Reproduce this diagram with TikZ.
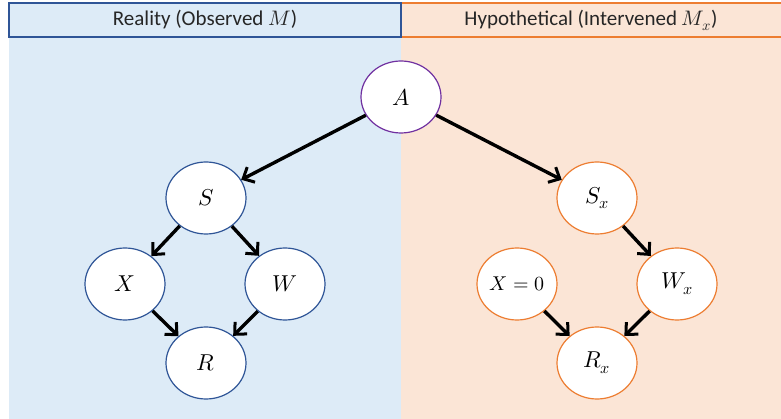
\documentclass[tikz,border=0pt]{standalone}
\usepackage{unicode-math}
\setmainfont{Carlito}
\setmathfont{Latin Modern Math}
\usetikzlibrary{shapes.geometric, arrows.meta}
\definecolor{realfill}{RGB}{221,235,247}
\definecolor{hypfill}{RGB}{251,229,214}
\definecolor{realline}{RGB}{47,85,151}
\definecolor{hypline}{RGB}{237,125,49}
\definecolor{rootline}{RGB}{112,48,160}
\tikzset{
    varnode/.style={ellipse, draw, fill=white, line width=1.2pt, minimum width=80pt, minimum height=72pt, inner sep=0pt, font=\fontsize{23}{27}\selectfont},
    obsnode/.style={varnode, draw=realline},
    hypnode/.style={varnode, draw=hypline},
    causal/.style={-{Straight Barb[length=9pt, width=17pt, line width=3pt]}, line width=3.4pt, black},
}
\begin{document}
\begin{tikzpicture}[x=1pt, y=-1pt]
    \useasboundingbox (0, 0) rectangle (781, 419);
    % 背景
    \fill[realfill] (9, 3) rectangle (401, 419);
    \fill[hypfill] (401, 3) rectangle (781, 419);
    \draw[hypline, line width=1.5pt] (401, 3) rectangle (783, 37);
    \draw[realline, line width=1.5pt] (9, 3) rectangle (401, 37);
    \node[font=\fontsize{21}{25}\selectfont, text=black!85] (realtitle) at (205, 20) {Reality (Observed $M$)};
    \node[font=\fontsize{21}{25}\selectfont, text=black!85] (hyptitle) at (591, 20) {Hypothetical (Intervened $M_x$)};

    % 共同根节点
    \node[varnode, draw=rootline] (A) at (401, 97) {$A$};

    % 观测模型
    \node[obsnode] (S) at (206, 198) {$S$};
    \node[obsnode] (X) at (125, 284) {$X$};
    \node[obsnode] (W) at (285, 284) {$W$};
    \node[obsnode] (R) at (206, 363) {$R$};

    % 干预模型
    \node[hypnode] (Sx) at (597, 198) {$S_x$};
    \node[hypnode, font=\fontsize{20}{24}\selectfont] (X0) at (517, 284) {$X=0$};
    \node[hypnode] (Wx) at (677, 284) {$W_x$};
    \node[hypnode] (Rx) at (597, 363) {$R_x$};

    \draw[causal] (A) -- (S);
    \draw[causal] (A) -- (Sx);
    \draw[causal] (S) -- (X);
    \draw[causal] (S) -- (W);
    \draw[causal] (X) -- (R);
    \draw[causal] (W) -- (R);
    \draw[causal] (Sx) -- (Wx);
    \draw[causal] (X0) -- (Rx);
    \draw[causal] (Wx) -- (Rx);
\end{tikzpicture}
\end{document}
